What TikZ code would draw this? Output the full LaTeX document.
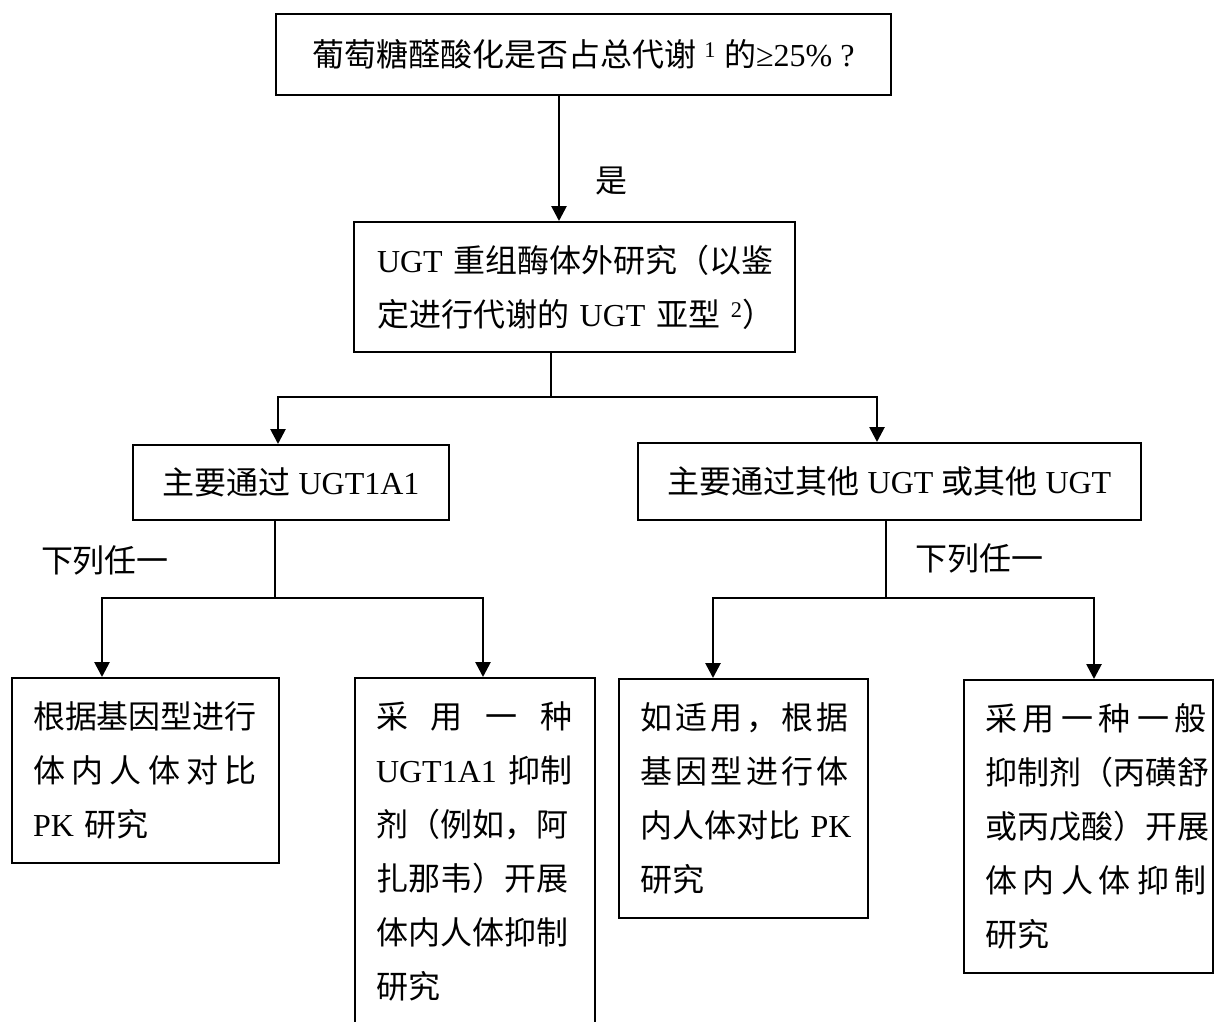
\documentclass[tikz,border=0pt]{standalone}
\usepackage{fontspec}
\setmainfont{Noto Sans CJK SC}
\newfontfamily\tnr{Liberation Serif}
\usetikzlibrary{arrows.meta,calc}
\newcommand\T[1]{{\tnr{}#1}}
\newcommand\jl[2]{\makebox[#1][s]{#2}}
\tikzset{
  x=1pt, y=-1pt,
  box/.style={draw, line width=2pt, inner sep=0pt, font=\fontsize{32}{54}\selectfont},
  tbox/.style={box, anchor=north west, align=left, inner xsep=21pt},
  sbox/.style={box, anchor=north west, align=center},
  lbl/.style={inner sep=0pt, font=\fontsize{32}{54}\selectfont},
  wire/.style={line width=2.7pt},
  conn/.style={line width=2.7pt, -{Triangle[length=15pt,width=15pt]}},
}
\begin{document}
\begin{tikzpicture}
\path[use as bounding box] (0,0) rectangle (1216,1021);
\fill[white] (0,0) rectangle (1216,1021);
\clip (0,0) rectangle (1216,1021);

% boxes
\node[sbox, minimum width=615pt, minimum height=81pt] (top) at (275,13)
  {葡萄糖醛酸化是否占总代谢\T{ \textsuperscript{1} }的\T{≥25\% ?}};

\node[tbox, inner xsep=23pt, minimum width=441pt, minimum height=130pt, text width=395pt] (q) at (353,221)
  {\jl{396pt}{\T{UGT}\hfill 重组酶体外研究（以鉴}\\
   \mbox{定进行代谢的\T{ UGT }亚型\T{ \textsuperscript{2}}）}};

\node[sbox, minimum width=316pt, minimum height=75pt] (b1) at (132,444)
  {主要通过\T{ UGT1A1}};
\node[sbox, minimum width=503pt, minimum height=77pt] (b2) at (637,442)
  {主要通过其他\T{ UGT }或其他\T{ UGT}};

\node[tbox, minimum width=267pt, minimum height=185pt, text width=225pt] (l1) at (11,677)
  {根据基因型进行\\
   \jl{224pt}{体\hfill 内\hfill 人\hfill 体\hfill 对\hfill 比}\\
   \mbox{\T{PK }研究}};

\node[tbox, minimum width=240pt, minimum height=347pt, text width=198pt] (l2) at (354,677)
  {\jl{196pt}{采\hfill 用\hfill 一\hfill 种}\\
   \jl{196pt}{\T{UGT1A1}\hfill 抑制}\\
   剂（例如，阿\\
   扎那韦）开展\\
   体内人体抑制\\
   研究};

\node[tbox, minimum width=249pt, minimum height=239pt, text width=207pt] (r1) at (618,678)
  {\jl{209pt}{如\hfill 适\hfill 用\hfill ，\hfill 根\hfill 据}\\
   \jl{209pt}{基\hfill 因\hfill 型\hfill 进\hfill 行\hfill 体}\\
   \mbox{内人体对比\T{ PK}}\\
   研究};

\node[tbox, minimum width=249pt, minimum height=293pt, text width=207pt] (r2) at (963,679)
  {\jl{222pt}{采\hfill 用\hfill 一\hfill 种\hfill 一\hfill 般}\\
   抑制剂（丙磺舒\\
   或丙戊酸）开展\\
   \jl{222pt}{体\hfill 内\hfill 人\hfill 体\hfill 抑\hfill 制}\\
   研究};

% labels
\node[lbl] (yes) at (611,181) {是};
\node[lbl] (anyl) at (105,560) {下列任一};
\node[lbl] (anyr) at (979,558) {下列任一};

% junction coordinates
\coordinate (x0) at (559,0);
\coordinate (j1) at (551,397);
\coordinate (j2) at (275,598);
\coordinate (j3) at (886,598);

% connectors
\draw[conn] (top.south -| x0) -- (q.north -| x0);

\draw[wire] (q.south -| j1) -- (j1);
\draw[conn] (j1) -| ($(b1.north west)+(146,0)$);
\draw[conn] (j1) -| ($(b2.north west)+(240,0)$);

\draw[wire] (b1.south -| j2) -- (j2);
\draw[conn] (j2) -| ($(l1.north west)+(91,0)$);
\draw[conn] (j2) -| ($(l2.north west)+(129,0)$);

\draw[wire] (b2.south -| j3) -- (j3);
\draw[conn] (j3) -| ($(r1.north west)+(95,0)$);
\draw[conn] (j3) -| ($(r2.north west)+(131,0)$);
\end{tikzpicture}
\end{document}
